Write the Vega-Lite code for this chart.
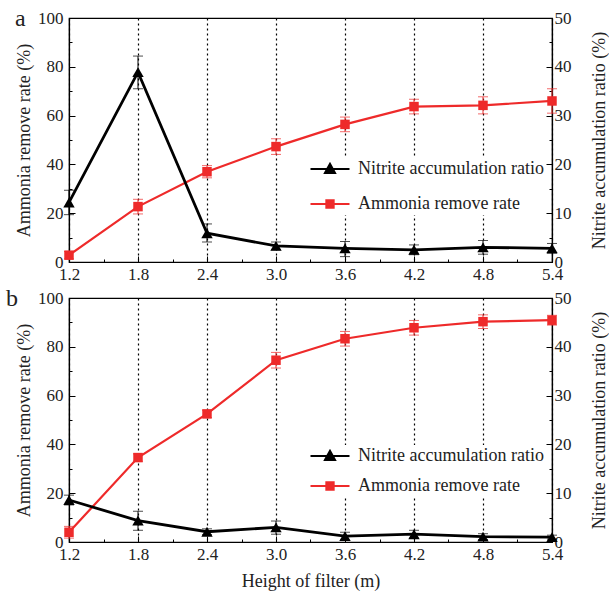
{
  "$schema": "https://vega.github.io/schema/vega-lite/v6.json",
  "padding": {"left": 5, "top": 6, "right": 0, "bottom": 5},
  "background": "white",
  "config": {
    "font": "Liberation Serif",
    "view": {"stroke": "black", "strokeWidth": 1.2},
    "axis": {
      "labelFont": "Liberation Serif", "labelFontSize": 17, "labelColor": "#222", "labelFlush": false,
      "titleFont": "Liberation Serif", "titleFontSize": 18, "titleFontWeight": "normal", "titleColor": "#222",
      "domainColor": "black", "tickColor": "black", "domainWidth": 1.2
    },
    "legend": {"labelFont": "Liberation Serif", "labelFontSize": 18, "labelColor": "#222", "labelLimit": 400},
    "title": {"font": "Liberation Serif", "fontSize": 24, "fontWeight": "normal", "color": "#222"}
  },
  "datasets": {
    "a": [
      {"series": "Ammonia remove rate", "h": 1.2, "v": 2.8, "lo": 1.3, "hi": 4.3},
      {"series": "Ammonia remove rate", "h": 1.8, "v": 22.7, "lo": 19.7, "hi": 25.7},
      {"series": "Ammonia remove rate", "h": 2.4, "v": 37.0, "lo": 34.5, "hi": 39.5},
      {"series": "Ammonia remove rate", "h": 3.0, "v": 47.3, "lo": 44.1, "hi": 50.5},
      {"series": "Ammonia remove rate", "h": 3.6, "v": 56.4, "lo": 53.4, "hi": 59.4},
      {"series": "Ammonia remove rate", "h": 4.2, "v": 63.7, "lo": 60.7, "hi": 66.7},
      {"series": "Ammonia remove rate", "h": 4.8, "v": 64.2, "lo": 60.7, "hi": 67.7},
      {"series": "Ammonia remove rate", "h": 5.4, "v": 66.0, "lo": 61.0, "hi": 71.0},
      {"series": "Nitrite accumulation ratio", "h": 1.2, "v": 12.2, "lo": 9.7, "hi": 14.7},
      {"series": "Nitrite accumulation ratio", "h": 1.8, "v": 38.9, "lo": 35.5, "hi": 42.2},
      {"series": "Nitrite accumulation ratio", "h": 2.4, "v": 5.9, "lo": 4.1, "hi": 7.8},
      {"series": "Nitrite accumulation ratio", "h": 3.0, "v": 3.3, "lo": 2.5, "hi": 4.1},
      {"series": "Nitrite accumulation ratio", "h": 3.6, "v": 2.8, "lo": 1.1, "hi": 4.2},
      {"series": "Nitrite accumulation ratio", "h": 4.2, "v": 2.5, "lo": 1.5, "hi": 3.5},
      {"series": "Nitrite accumulation ratio", "h": 4.8, "v": 3.0, "lo": 1.6, "hi": 4.4},
      {"series": "Nitrite accumulation ratio", "h": 5.4, "v": 2.8, "lo": 1.8, "hi": 3.8}
    ],
    "b": [
      {"series": "Ammonia remove rate", "h": 1.2, "v": 4.0, "lo": 1.6, "hi": 6.4},
      {"series": "Ammonia remove rate", "h": 1.8, "v": 34.6, "lo": 33.1, "hi": 36.1},
      {"series": "Ammonia remove rate", "h": 2.4, "v": 52.5, "lo": 51.0, "hi": 54.0},
      {"series": "Ammonia remove rate", "h": 3.0, "v": 74.5, "lo": 71.3, "hi": 77.7},
      {"series": "Ammonia remove rate", "h": 3.6, "v": 83.3, "lo": 80.3, "hi": 86.3},
      {"series": "Ammonia remove rate", "h": 4.2, "v": 87.8, "lo": 84.8, "hi": 90.8},
      {"series": "Ammonia remove rate", "h": 4.8, "v": 90.3, "lo": 87.5, "hi": 93.1},
      {"series": "Ammonia remove rate", "h": 5.4, "v": 90.9, "lo": 88.9, "hi": 92.9},
      {"series": "Nitrite accumulation ratio", "h": 1.2, "v": 8.6, "lo": 7.6, "hi": 9.6},
      {"series": "Nitrite accumulation ratio", "h": 1.8, "v": 4.4, "lo": 2.4, "hi": 6.3},
      {"series": "Nitrite accumulation ratio", "h": 2.4, "v": 2.1, "lo": 1.5, "hi": 2.7},
      {"series": "Nitrite accumulation ratio", "h": 3.0, "v": 3.0, "lo": 1.6, "hi": 4.3},
      {"series": "Nitrite accumulation ratio", "h": 3.6, "v": 1.2, "lo": 0.4, "hi": 2.0},
      {"series": "Nitrite accumulation ratio", "h": 4.2, "v": 1.6, "lo": 0.8, "hi": 2.4},
      {"series": "Nitrite accumulation ratio", "h": 4.8, "v": 1.1, "lo": 0.5, "hi": 1.7},
      {"series": "Nitrite accumulation ratio", "h": 5.4, "v": 1.0, "lo": 0.6, "hi": 1.4}
    ]
  },
  "resolve": {"scale": {"color": "independent"}, "legend": {"color": "independent"}},
  "spacing": 3,
  "vconcat": [
    {
      "width": 483, "height": 244,
      "title": {"text": "a", "anchor": "start", "frame": "group", "orient": "top", "offset": -41, "dx": -54, "baseline": "alphabetic"},
      "data": {"name": "a"},
      "encoding": {
        "x": {"field": "h", "type": "quantitative", "scale": {"domain": [1.2, 5.4], "nice": false},
          "axis": {"title": null, "values": [1.2,1.5,1.8,2.1,2.4,2.7,3.0,3.3,3.6,3.9,4.2,4.5,4.8,5.1,5.4],
            "labelExpr": "round(datum.value*10) % 6 == 0 ? format(datum.value, '.1f') : ''",
            "tickSize": {"condition": {"test": "round(datum.value*10) % 6 == 0", "value": -6}, "value": -3},
            "labelPadding": 10, "grid": true, "gridColor": "black", "gridDash": [2, 3], "gridWidth": 1.2,
            "gridOpacity": {"condition": {"test": "round(datum.value*10) % 6 == 0", "value": 1}, "value": 0}}},
        "color": {"field": "series", "type": "nominal",
          "scale": {"domain": ["Nitrite accumulation ratio", "Ammonia remove rate"], "range": ["black", "#ee2a2a"]},
          "legend": {"title": null, "orient": "none", "legendX": 250, "legendY": 140, "fillColor": "white", "padding": 2,
            "rowPadding": 17, "symbolSize": 169, "labelOffset": 19, "symbolOffset": 0,
            "encode": {"symbols": {"update": {
              "shape": {"signal": "datum.value == 'Ammonia remove rate' ? 'M-3,0H3M-0.55,-0.55H0.55V0.55H-0.55Z' : 'M-3,0H3M-0.75,0.6L0,-0.75L0.75,0.6Z'"},
              "fill": {"signal": "datum.value == 'Ammonia remove rate' ? '#ee2a2a' : 'black'"},
              "stroke": {"signal": "datum.value == 'Ammonia remove rate' ? '#ee2a2a' : 'black'"},
              "strokeWidth": {"value": 2.2}, "fillOpacity": {"value": 1}, "opacity": {"value": 1}}}}}}
      },
      "layer": [
        {
          "transform": [{"filter": "datum.series == 'Ammonia remove rate'"}],
          "encoding": {"y": {"field": "v", "type": "quantitative", "scale": {"domain": [0, 100], "nice": false},
            "axis": {"orient": "left", "title": "Ammonia remove rate (%)", "values": [0,10,20,30,40,50,60,70,80,90,100],
              "labelExpr": "datum.value % 20 == 0 ? datum.value : ''",
              "tickSize": {"condition": {"test": "datum.value % 20 == 0", "value": -6}, "value": -3},
              "labelPadding": 12, "titlePadding": 4, "grid": false}}},
          "layer": [
            {"mark": {"type": "rule", "strokeWidth": 1}, "encoding": {"y": {"field": "lo", "type": "quantitative"}, "y2": {"field": "hi"}}},
            {"mark": {"type": "tick", "orient": "horizontal", "size": 10, "thickness": 1}, "encoding": {"y": {"field": "lo", "type": "quantitative"}}},
            {"mark": {"type": "tick", "orient": "horizontal", "size": 10, "thickness": 1}, "encoding": {"y": {"field": "hi", "type": "quantitative"}}},
            {"mark": {"type": "line", "strokeWidth": 2.2}},
            {"mark": {"type": "point", "filled": true, "opacity": 1, "size": 90, "shape": "square"}}
          ]
        },
        {
          "transform": [{"filter": "datum.series == 'Nitrite accumulation ratio'"}],
          "encoding": {"y": {"field": "v", "type": "quantitative", "scale": {"domain": [0, 50], "nice": false},
            "axis": {"orient": "right", "title": "Nitrite accumulation ratio (%)", "titleAngle": -90, "titleBaseline": "top", "values": [0,5,10,15,20,25,30,35,40,45,50],
              "labelExpr": "datum.value % 10 == 0 ? datum.value : ''",
              "tickSize": {"condition": {"test": "datum.value % 10 == 0", "value": -6}, "value": -3},
              "labelPadding": 8, "titlePadding": 19, "grid": false}}},
          "layer": [
            {"mark": {"type": "rule", "strokeWidth": 1}, "encoding": {"y": {"field": "lo", "type": "quantitative"}, "y2": {"field": "hi"}}},
            {"mark": {"type": "tick", "orient": "horizontal", "size": 10, "thickness": 1}, "encoding": {"y": {"field": "lo", "type": "quantitative"}}},
            {"mark": {"type": "tick", "orient": "horizontal", "size": 10, "thickness": 1}, "encoding": {"y": {"field": "hi", "type": "quantitative"}}},
            {"mark": {"type": "line", "strokeWidth": 2.8}},
            {"mark": {"type": "point", "filled": true, "opacity": 1, "size": 130, "shape": "triangle-up"}}
          ]
        }
      ],
      "resolve": {"scale": {"y": "independent"}}
    },
    {
      "width": 483, "height": 244,
      "title": {"text": "b", "anchor": "start", "frame": "group", "orient": "top", "offset": -41, "dx": -63, "baseline": "alphabetic"},
      "data": {"name": "b"},
      "encoding": {
        "x": {"field": "h", "type": "quantitative", "scale": {"domain": [1.2, 5.4], "nice": false},
          "axis": {"title": "Height of filter (m)", "titlePadding": 10, "values": [1.2,1.5,1.8,2.1,2.4,2.7,3.0,3.3,3.6,3.9,4.2,4.5,4.8,5.1,5.4],
            "labelExpr": "round(datum.value*10) % 6 == 0 ? format(datum.value, '.1f') : ''",
            "tickSize": {"condition": {"test": "round(datum.value*10) % 6 == 0", "value": -6}, "value": -3},
            "labelPadding": 10, "grid": true, "gridColor": "black", "gridDash": [2, 3], "gridWidth": 1.2,
            "gridOpacity": {"condition": {"test": "round(datum.value*10) % 6 == 0", "value": 1}, "value": 0}}},
        "color": {"field": "series", "type": "nominal",
          "scale": {"domain": ["Nitrite accumulation ratio", "Ammonia remove rate"], "range": ["black", "#ee2a2a"]},
          "legend": {"title": null, "orient": "none", "legendX": 250, "legendY": 147, "fillColor": "white", "padding": 2,
            "rowPadding": 12, "symbolSize": 169, "labelOffset": 19, "symbolOffset": 0,
            "encode": {"symbols": {"update": {
              "shape": {"signal": "datum.value == 'Ammonia remove rate' ? 'M-3,0H3M-0.55,-0.55H0.55V0.55H-0.55Z' : 'M-3,0H3M-0.75,0.6L0,-0.75L0.75,0.6Z'"},
              "fill": {"signal": "datum.value == 'Ammonia remove rate' ? '#ee2a2a' : 'black'"},
              "stroke": {"signal": "datum.value == 'Ammonia remove rate' ? '#ee2a2a' : 'black'"},
              "strokeWidth": {"value": 2.2}, "fillOpacity": {"value": 1}, "opacity": {"value": 1}}}}}}
      },
      "layer": [
        {
          "transform": [{"filter": "datum.series == 'Ammonia remove rate'"}],
          "encoding": {"y": {"field": "v", "type": "quantitative", "scale": {"domain": [0, 100], "nice": false},
            "axis": {"orient": "left", "title": "Ammonia remove rate (%)", "values": [0,10,20,30,40,50,60,70,80,90,100],
              "labelExpr": "datum.value % 20 == 0 ? datum.value : ''",
              "tickSize": {"condition": {"test": "datum.value % 20 == 0", "value": -6}, "value": -3},
              "labelPadding": 12, "titlePadding": 4, "grid": false}}},
          "layer": [
            {"mark": {"type": "rule", "strokeWidth": 1}, "encoding": {"y": {"field": "lo", "type": "quantitative"}, "y2": {"field": "hi"}}},
            {"mark": {"type": "tick", "orient": "horizontal", "size": 10, "thickness": 1}, "encoding": {"y": {"field": "lo", "type": "quantitative"}}},
            {"mark": {"type": "tick", "orient": "horizontal", "size": 10, "thickness": 1}, "encoding": {"y": {"field": "hi", "type": "quantitative"}}},
            {"mark": {"type": "line", "strokeWidth": 2.2}},
            {"mark": {"type": "point", "filled": true, "opacity": 1, "size": 90, "shape": "square"}}
          ]
        },
        {
          "transform": [{"filter": "datum.series == 'Nitrite accumulation ratio'"}],
          "encoding": {"y": {"field": "v", "type": "quantitative", "scale": {"domain": [0, 50], "nice": false},
            "axis": {"orient": "right", "title": "Nitrite accumulation ratio (%)", "titleAngle": -90, "titleBaseline": "top", "values": [0,5,10,15,20,25,30,35,40,45,50],
              "labelExpr": "datum.value % 10 == 0 ? datum.value : ''",
              "tickSize": {"condition": {"test": "datum.value % 10 == 0", "value": -6}, "value": -3},
              "labelPadding": 8, "titlePadding": 19, "grid": false}}},
          "layer": [
            {"mark": {"type": "rule", "strokeWidth": 1}, "encoding": {"y": {"field": "lo", "type": "quantitative"}, "y2": {"field": "hi"}}},
            {"mark": {"type": "tick", "orient": "horizontal", "size": 10, "thickness": 1}, "encoding": {"y": {"field": "lo", "type": "quantitative"}}},
            {"mark": {"type": "tick", "orient": "horizontal", "size": 10, "thickness": 1}, "encoding": {"y": {"field": "hi", "type": "quantitative"}}},
            {"mark": {"type": "line", "strokeWidth": 2.8}},
            {"mark": {"type": "point", "filled": true, "opacity": 1, "size": 130, "shape": "triangle-up"}}
          ]
        }
      ],
      "resolve": {"scale": {"y": "independent"}}
    }
  ]
}
